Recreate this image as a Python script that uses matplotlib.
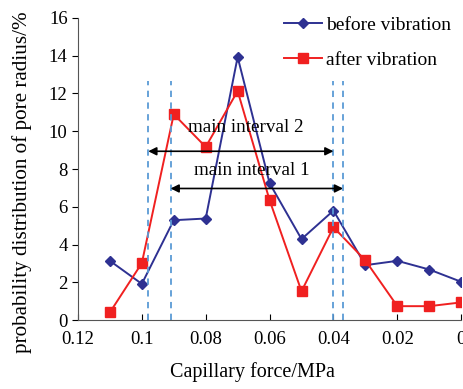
import numpy as np
import matplotlib
matplotlib.use("Agg")
import matplotlib.pyplot as plt

plt.rcParams['font.family'] = ['Liberation Serif', 'DejaVu Serif']

force = [0.11, 0.10, 0.09, 0.08, 0.07, 0.06, 0.05, 0.04, 0.03, 0.02, 0.01, 0.00]
before = [3.14, 1.92, 5.29, 5.38, 13.93, 7.25, 4.29, 5.80, 2.91, 3.14, 2.68, 2.03]
after = [0.41, 3.02, 10.9, 9.17, 12.13, 6.35, 1.53, 4.92, 3.16, 0.74, 0.74, 0.94]

interval_lines = [0.098, 0.091, 0.040, 0.037]
interval2 = (0.098, 0.040)
interval1 = (0.091, 0.037)

fig = plt.figure(figsize=(4.64, 3.89), dpi=100)
ax = fig.add_axes([0.168, 0.177, 0.826, 0.777])

ax.plot(force, before, color='#2E3192', marker='D', markersize=5.5, lw=1.4,
        label='before vibration')
ax.plot(force, after, color='#F02020', marker='s', markersize=6.5, lw=1.4,
        label='after vibration')

for xv in interval_lines:
    ax.plot([xv, xv], [0, 12.65], color='#5B9BD5', ls=(0, (3.5, 3)), lw=1.3)

ax.annotate('', xy=(interval2[1], 8.94), xytext=(interval2[0], 8.94),
            arrowprops=dict(arrowstyle='<|-|>', color='black', lw=1.2,
                            shrinkA=0, shrinkB=0, mutation_scale=12))
ax.annotate('', xy=(interval1[1], 6.97), xytext=(interval1[0], 6.97),
            arrowprops=dict(arrowstyle='<|-|>', color='black', lw=1.2,
                            shrinkA=0, shrinkB=0, mutation_scale=12))
ax.text(0.0675, 10.2, 'main interval 2', ha='center', va='center', fontsize=13.8)
ax.text(0.0656, 7.9, 'main interval 1', ha='center', va='center', fontsize=13.8)

ax.set_xlim(0.12, 0.0)
ax.set_ylim(0, 16)
ax.set_xticks([0.12, 0.10, 0.08, 0.06, 0.04, 0.02, 0.0])
ax.set_xticklabels(['0.12', '0.1', '0.08', '0.06', '0.04', '0.02', '0'])
ax.set_yticks(range(0, 17, 2))
ax.tick_params(axis='x', direction='in', length=4, labelsize=13.5, pad=8)
ax.tick_params(axis='y', direction='out', length=4, labelsize=13.5)
ax.spines['top'].set_visible(False)
ax.spines['right'].set_visible(False)
ax.spines['left'].set_color('#555555')
ax.spines['bottom'].set_color('#555555')

ax.set_xlabel('Capillary force/MPa', fontsize=14.5)
ax.xaxis.set_label_coords(0.455, -0.14)
ax.set_ylabel('probability distribution of pore radius/%', fontsize=15.2)
ax.yaxis.set_label_coords(-0.12, 0.455)

ax.legend(loc='upper right', bbox_to_anchor=(1.02, 1.063), frameon=False,
          fontsize=14, handlelength=2.0, handletextpad=0.2, labelspacing=0.9)

fig.savefig('out.png', dpi=100)
